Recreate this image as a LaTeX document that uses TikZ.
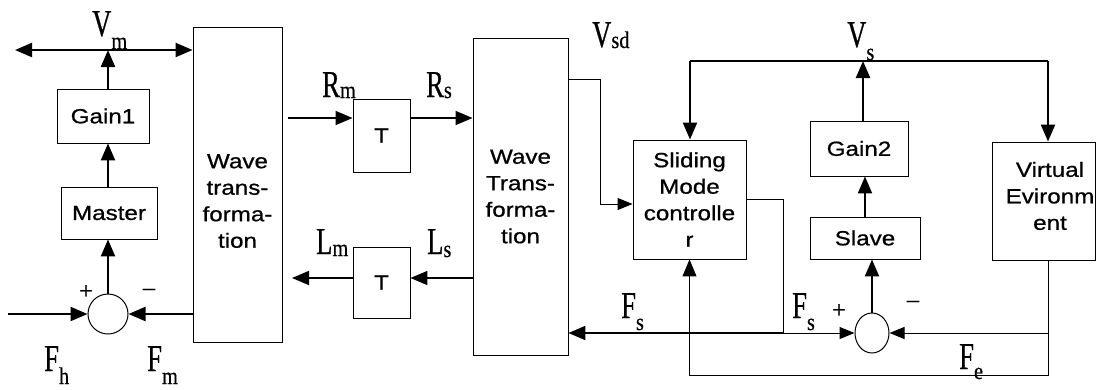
\documentclass[tikz,border=0pt]{standalone}
\usepackage{fontspec}
\setmainfont{Liberation Serif}
\newfontfamily\labfont[FakeStretch=0.7,FakeBold=0.6]{Liberation Serif}
\newfontfamily\subfont[FakeStretch=0.85,FakeBold=0.4]{Liberation Serif}
\newfontfamily\boxfont[FakeStretch=1.18,FakeBold=0.8]{Liberation Sans}
\newfontfamily\signfont[FakeBold=1]{Liberation Serif}
\usetikzlibrary{arrows.meta,shapes.geometric}
\newcommand\lab[3][12]{{\fontsize{38}{38}\selectfont\labfont #2}\raisebox{-#1pt}{\fontsize{24}{24}\selectfont\subfont #3}}
\tikzset{
  box/.style={draw, line width=0.9pt, inner sep=0pt, align=center,
    font=\boxfont\fontsize{20.5}{26.5}\selectfont},
  boxtext/.style={inner sep=0pt, align=center, font=\boxfont\fontsize{20.5}{26.5}\selectfont},
  sumc/.style={draw, line width=1pt, ellipse, inner sep=0pt},
  lbl/.style={anchor=base west, inner sep=0pt},
  sign/.style={inner sep=0pt, font=\signfont\fontsize{24}{24}\selectfont},
  thk/.style={line width=2.2pt},
  med/.style={line width=1.6pt},
  thn/.style={line width=1pt},
  >={Triangle[length=17pt,width=14pt]},
  sm/.style={-{Triangle[length=15pt,width=12pt]}}
}
\begin{document}
\begin{tikzpicture}[x=1pt,y=-1pt]
\useasboundingbox (0,0) rectangle (1096,389);
% blocks
\node[box, minimum width=92pt, minimum height=54pt] (gain1) at (103,116) {Gain1};
\node[box, minimum width=96pt, minimum height=52pt] (master) at (109,213) {Master};
\node[sumc, minimum width=40pt, minimum height=40pt] (sum1) at (108,314) {};
\node[box, minimum width=89pt, minimum height=315pt] (wave1) at (237.5,184.5) {};
\node[boxtext] (wave1t) at (237.5,201) {Wave\\trans-\\forma-\\tion};
\node[box, minimum width=57pt, minimum height=73pt] (t1) at (381.5,135.5) {T};
\node[box, minimum width=57pt, minimum height=71pt] (t2) at (381.5,282.5) {T};
\node[box, minimum width=95pt, minimum height=317pt] (wave2) at (520.5,196.5) {Wave\\Trans-\\forma-\\tion};
\node[box, minimum width=113pt, minimum height=119pt] (smc) at (689.5,199.5) {Sliding\\Mode\\controlle\\r};
\node[box, minimum width=98pt, minimum height=55pt] (gain2) at (859,148.5) {Gain2};
\node[box, minimum width=110pt, minimum height=42pt] (slave) at (865,238) {Slave};
\node[sumc, minimum width=34pt, minimum height=40pt] (sum2) at (872,333) {};
\node[box, minimum width=103pt, minimum height=118pt] (virt) at (1043.5,201) {};
\node[boxtext] (virtt) at (1050,196) {Virtual\\Evironm\\ent};
% coordinates
\coordinate (vmL) at (15,50);
\coordinate (vmJ) at (108,50);
\coordinate (fh) at (8,314);
\coordinate (rmL) at (288,118);
\coordinate (lmL) at (292,278);
\coordinate (vsd1) at (600,79);
\coordinate (vsd2) at (600,204);
\coordinate (vsL) at (690,61);
\coordinate (vsJ) at (863,61);
\coordinate (vsR) at (1048,61);
\coordinate (fsJ) at (783,333);
\coordinate (feJ) at (1048,333);
\coordinate (veB) at (1048,375);
% master side
\draw[thk,<->] (vmL) -- (wave1.west |- vmJ);
\draw[thk,->] (gain1.north -| vmJ) -- (vmJ);
\draw[thk,->] (master.north -| vmJ) -- (gain1.south -| vmJ);
\draw[thk,->] (sum1.north) -- (master.south -| sum1.north);
\draw[thk,->] (fh) -- (sum1.west);
\draw[thk,->] (wave1.west |- sum1) -- (sum1.east);
% channel
\draw[med,->] (rmL) -- (t1.west |- rmL);
\draw[med,->] (t1.east |- rmL) -- (wave2.west |- rmL);
\draw[med,->] (wave2.west |- lmL) -- (t2.east |- lmL);
\draw[med,->] (t2.west |- lmL) -- (lmL);
% slave side
\draw[thn,sm] (wave2.east |- vsd1) -- (vsd1) -- (vsd2) -- (smc.west |- vsd2);
\draw[thk] (vsL) -- (vsR);
\draw[thk,->] (vsL) -- (smc.north -| vsL);
\draw[thk,->] (vsR) -- (virt.north -| vsR);
\draw[thk,->] (gain2.north -| vsJ) -- (vsJ);
\draw[thk,->] (slave.north) -- (slave.north |- gain2.south);
\draw[thk,->] (sum2.north) -- (sum2.north |- slave.south);
\draw[thn] (smc.east) -| (fsJ);
\draw[thk,->] (fsJ) -- (wave2.east |- fsJ);
\draw[thn,sm] (fsJ) -- (sum2.west);
\draw[thn,->] (virt.south -| veB) -- (veB) -| (smc.south);
\draw[thn,sm] (feJ) -- (sum2.east);
% labels
\node[lbl] (lvm) at (92,36) {\lab[13]{V}{m}};
\node[lbl] (lrm) at (322,97) {\lab[1]{R}{m}};
\node[lbl] (lrs) at (426,97) {\lab[1]{R}{s}};
\node[lbl] (llm) at (316,254) {\lab[2]{L}{m}};
\node[lbl] (lls) at (427,254) {\lab[3]{L}{s}};
\node[lbl] (lvsd) at (592,47) {\lab[1]{V}{sd}};
\node[lbl] (lvs) at (847,47) {\lab[13]{V}{s}};
\node[lbl] (lfs1) at (621,318) {\lab[12]{F}{s}};
\node[lbl] (lfs2) at (792,318) {\lab[12]{F}{s}};
\node[lbl] (lfh) at (44,371) {\lab[13]{F}{h}};
\node[lbl] (lfm) at (147,371) {\lab[13]{F}{m}};
\node[lbl] (lfe) at (959,369) {\lab[10]{F}{e}};
\node[sign] (p1) at (86,292) {+};
\node[sign] (m1) at (149,292) {–};
\node[sign] (p2) at (839,311) {+};
\node[sign] (m2) at (913,304) {–};
\end{tikzpicture}
\end{document}
